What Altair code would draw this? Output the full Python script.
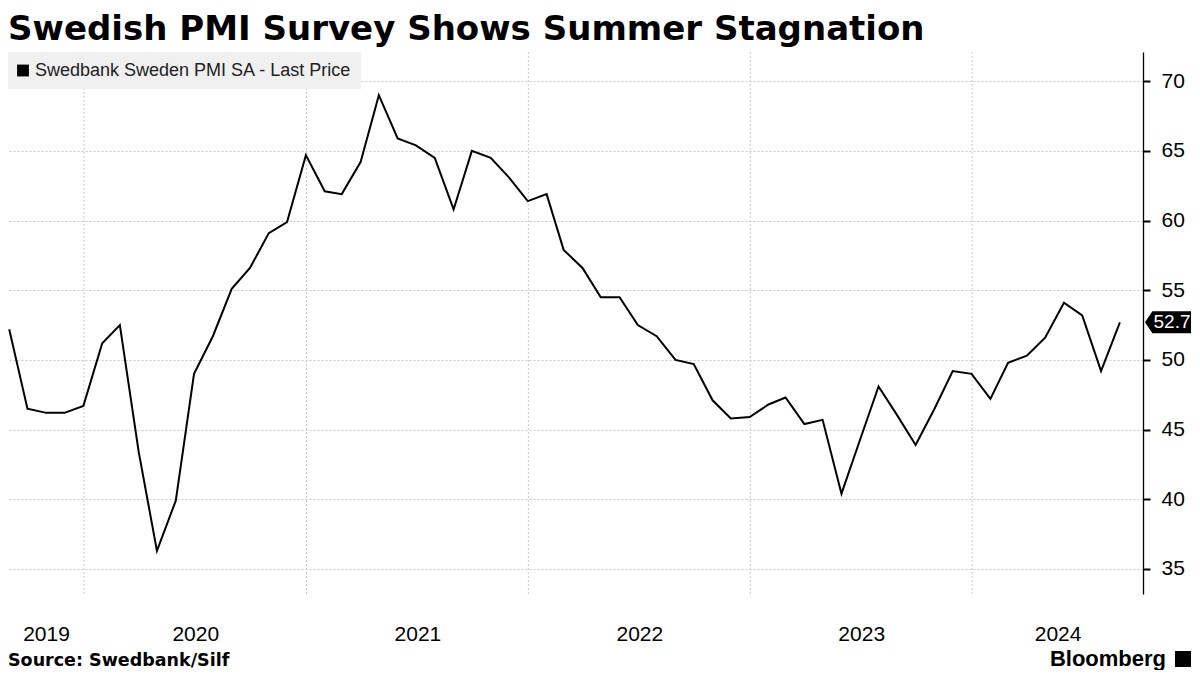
import altair as alt
import pandas as pd

TITLE = "Swedish PMI Survey Shows Summer Stagnation"
SERIES = "Swedbank Sweden PMI SA - Last Price"
SOURCE = "Source:  Swedbank/Silf"
BRAND = "Bloomberg"

# Monthly readings, Aug 2019 .. Aug 2024 (month-end)
pmi = [52.2, 46.5, 46.2, 46.2, 46.7,
       51.2, 52.5, 43.4, 36.3, 39.9, 49.0, 51.7, 55.1, 56.6, 59.1, 59.9, 64.7,
       62.1, 61.9, 64.2, 69.0, 65.9, 65.4, 64.5, 60.8, 65.0, 64.5, 63.1, 61.4,
       61.9, 57.9, 56.6, 54.5, 54.5, 52.5, 51.7, 50.0, 49.7, 47.1, 45.8, 45.9,
       46.8, 47.3, 45.4, 45.7, 40.4, 44.2, 48.1, 46.0, 43.9, 46.5, 49.2, 49.0,
       47.2, 49.8, 50.3, 51.6, 54.1, 53.2, 49.2, 52.7]
first_month = "2019-08-31"
year_labels = [2019, 2020, 2021, 2022, 2023, 2024]
y_ticks = [35 + 2.5 * i for i in range(15)]

x_start = pd.Timestamp("2019-08-29")
x_end = pd.Timestamp("2024-10-08")

W, H = 1135, 542

dates = pd.date_range(first_month, periods=len(pmi), freq="ME")
df = pd.DataFrame({"date": dates.strftime("%Y-%m-%dT00:00:00"),
                   "value": pmi, "series": SERIES})


def dt(ts):
    return alt.DateTime(year=int(ts.year), month=int(ts.month), date=int(ts.day),
                        hours=int(ts.hour))


label_vals = []
for yr in year_labels:
    s = max(pd.Timestamp(f"{yr}-01-01"), x_start)
    e = min(pd.Timestamp(f"{yr + 1}-01-01"), x_end)
    label_vals.append(dt(s + (e - s) / 2))

year_starts = pd.DataFrame({"date": [f"{yr}-01-01T00:00:00" for yr in year_labels[1:]]})

x_scale = alt.Scale(domain=[dt(x_start), dt(x_end)])
y_scale = alt.Scale(domain=[33.2, 72.1], nice=False, zero=False)
major = "datum.value % 5 === 0"

x_axis = alt.Axis(values=label_vals, labelExpr="timeFormat(datum.value, '%Y')",
                  grid=False, ticks=False, domain=False, labelFontSize=21,
                  labelFont="Liberation Sans", labelColor="black", labelPadding=29,
                  title=None, labelAlign="center", labelFlush=False, labelOverlap=False)

y_axis = alt.Axis(orient="right", values=y_ticks,
                  labelExpr=f"{major} ? datum.label : ''",
                  grid=True, gridColor="#c8c8c8", gridDash=[2, 2], gridWidth=1,
                  gridOpacity={"condition": {"test": major, "value": 1}, "value": 0},
                  tickColor="black",
                  tickSize={"condition": {"test": major, "value": 7}, "value": 4},
                  tickWidth={"condition": {"test": major, "value": 2}, "value": 1},
                  domainColor="black", domainWidth=1.3,
                  labelFontSize=21, labelFont="Liberation Sans", labelColor="black",
                  labelPadding=11, title=None)

rules = alt.Chart(year_starts).mark_rule(color="#c8c8c8", strokeDash=[2, 2],
                                         strokeWidth=1).encode(
    x=alt.X("date:T", scale=x_scale, axis=x_axis))

line = alt.Chart(df).mark_line(strokeWidth=2, clip=True).encode(
    x=alt.X("date:T", scale=x_scale, axis=x_axis),
    y=alt.Y("value:Q", scale=y_scale, axis=y_axis),
    color=alt.Color("series:N", scale=alt.Scale(range=["black"]),
                    legend=alt.Legend(orient="none", legendX=0, legendY=0, title=None,
                                      fillColor="#f0f0f0", padding=9.5,
                                      symbolType="square", symbolSize=140,
                                      symbolOffset=-3.5,
                                      symbolFillColor="black", symbolStrokeColor="black",
                                      symbolStrokeWidth=0, labelLimit=0,
                                      labelFont="Liberation Sans", labelFontSize=18,
                                      labelColor="#222222", labelOffset=3)),
)

last = df.tail(1)
BOX = "M -1 0 L -0.68 -0.48 L 1 -0.48 L 1 0.48 L -0.68 0.48 Z"
box = alt.Chart(last).mark_point(shape=BOX, size=2116, filled=True, color="black",
                                 opacity=1, strokeWidth=0).encode(
    x=alt.value(W + 25), y=alt.Y("value:Q", scale=y_scale))
box_lbl = alt.Chart(last).mark_text(color="white", fontSize=19, font="Liberation Sans",
                                    align="center", baseline="middle").encode(
    x=alt.value(W + 29), y=alt.Y("value:Q", scale=y_scale),
    text=alt.Text("value:Q", format=".1f"))

src = alt.Chart(pd.DataFrame({"t": [SOURCE]})).mark_text(
    align="left", baseline="middle", font="DejaVu Sans", fontWeight="bold",
    fontSize=17.5, color="black").encode(x=alt.value(0), y=alt.value(H + 67), text="t:N")

brand = alt.Chart(pd.DataFrame({"t": [BRAND]})).mark_text(
    align="right", baseline="middle", font="Liberation Sans", fontWeight="bold",
    fontSize=22, color="black").encode(x=alt.value(1158), y=alt.value(H + 65), text="t:N")

icon = alt.Chart(pd.DataFrame({"t": [BRAND]})).mark_point(
    shape="square", size=256, filled=True, color="black", opacity=1).encode(
    x=alt.value(1175), y=alt.value(H + 65))

chart = alt.layer(rules, line, box, box_lbl, src, brand, icon).properties(
    width=W, height=H, padding={"top": 4, "left": 0, "right": 0, "bottom": 0},
    title=alt.TitleParams(text=TITLE, anchor="start", font="DejaVu Sans", fontSize=34,
                          fontWeight="bold", color="black", offset=5),
    background="white",
).configure_view(stroke=None)

chart.save("out.html", embed_options={"renderer": "svg", "actions": False})
